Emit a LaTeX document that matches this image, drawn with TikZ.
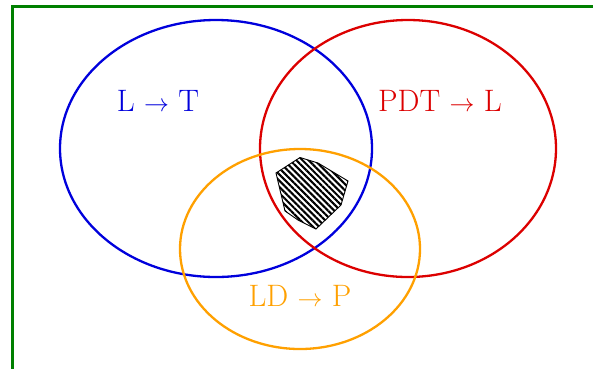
\documentclass[tikz,border=0pt]{standalone}
\usetikzlibrary{patterns.meta}
\definecolor{frameg}{RGB}{0,128,0}
\definecolor{setblue}{RGB}{0,0,220}
\definecolor{setred}{RGB}{220,0,0}
\definecolor{setorange}{RGB}{255,160,0}
\tikzset{
  setline/.style={line width=2.3pt},
  setlabel/.style={font=\fontsize{31}{35}\selectfont, inner sep=0pt},
}
\begin{document}
\begin{tikzpicture}[x=1pt,y=-1pt]
  \useasboundingbox (0,0) rectangle (593,368);
  \clip (0,0) rectangle (593,368);
  % frame
  \draw[frameg, line width=3pt] (12.5,6) rectangle (640,420);
  % the three sets
  \draw[setline, setblue] (216,148.5) ellipse [x radius=156, y radius=128.5];
  \draw[setline, setred] (408,148.5) ellipse [x radius=148, y radius=128.5];
  \draw[setline, setorange] (300,249) ellipse [x radius=120, y radius=100];
  % common region
  \draw[black, line width=0.9pt, pattern={Lines[angle=-45, distance=4.4pt, line width=2.1pt]}, pattern color=black]
    (276,173) -- (300,157.5) -- (318,163) -- (348,181) -- (341,205)
    -- (316,229) -- (298,220) -- (285,211) -- cycle;
  % labels
  \node[setlabel, text=setblue] (lt) at (158,101) {L $\rightarrow$ T};
  \node[setlabel, text=setred] (pdtl) at (440,101) {PDT $\rightarrow$ L};
  \node[setlabel, text=setorange] (ldp) at (300,296) {LD $\rightarrow$ P};
\end{tikzpicture}
\end{document}
